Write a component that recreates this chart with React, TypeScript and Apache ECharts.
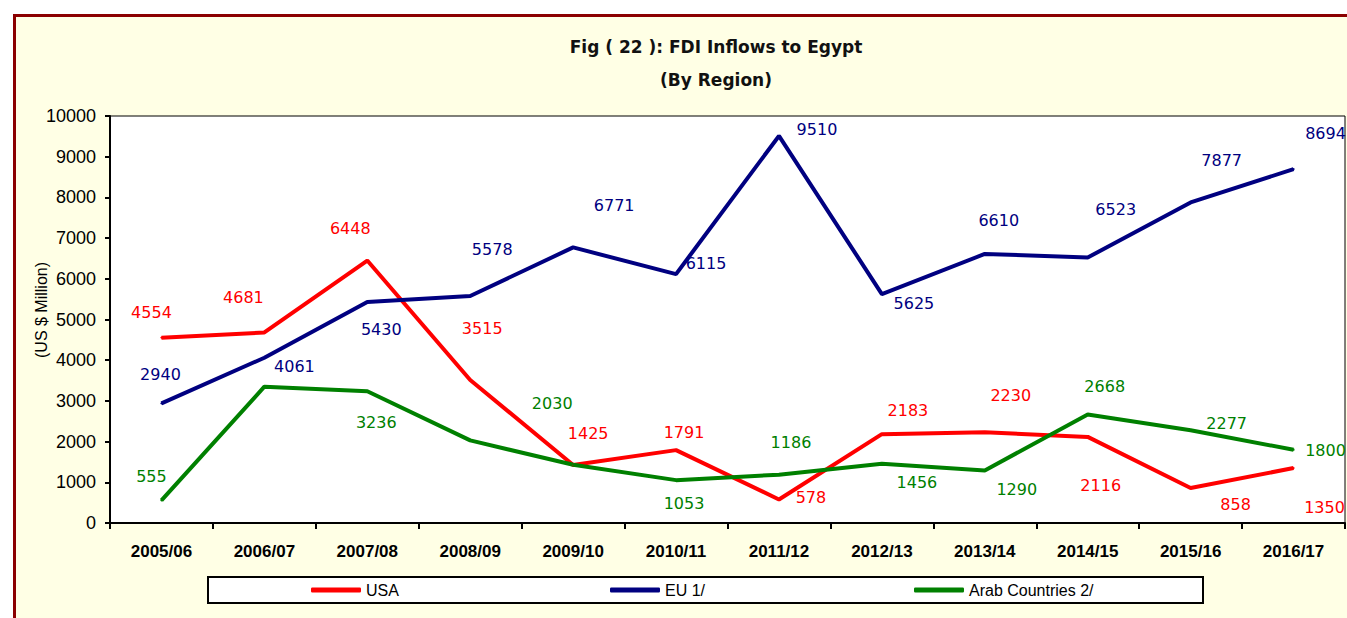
import React, { useEffect, useRef } from "react";
import * as echarts from "echarts";

const categories = ["2005/06", "2006/07", "2007/08", "2008/09", "2009/10", "2010/11", "2011/12", "2012/13", "2013/14", "2014/15", "2015/16", "2016/17"];
const usa = [4554, 4681, 6448, 3515, 1425, 1791, 578, 2183, 2230, 2116, 858, 1350];
const eu = [2940, 4061, 5430, 5578, 6771, 6115, 9510, 5625, 6610, 6523, 7877, 8694];
const arab = [555, 3349, 3236, 2030, 1430, 1053, 1186, 1456, 1290, 2668, 2277, 1800];
const yTicks = [0, 1000, 2000, 3000, 4000, 5000, 6000, 7000, 8000, 9000, 10000];

// label offsets (styling only), [dx, dy] from each point; null = label hidden
const usaLabelOffsets: ([number, number] | null)[] = [[-10, -25], [-21, -35], [-17, -32], [12, -51], [15, -32], [8, -18], [32, -2], [26, -24], [26, -37], [13, 49], [45, 16], [31, 39]];
const euLabelOffsets: ([number, number] | null)[] = [[-1, -29], [30, 9], [14, 28], [22, -46], [41, -42], [30, -11], [38, -6], [32, 9], [14, -33], [28, -48], [31, -42], [32, -36]];
const arabLabelOffsets: ([number, number] | null)[] = [[-10, -24], null, [9, 31], [82, -37], null, [8, 23], [12, -32], [35, 19], [32, 19], [17, -28], [36, -7], [32, 1]];

const RED = "#FF0000";
const NAVY = "#000080";
const GREEN = "#008000";

function buildData(values: number[], offsets: ([number, number] | null)[], color: string) {
  return values.map((v, i) => {
    const off = offsets[i];
    return {
      value: v,
      label: off
        ? {
            show: true,
            position: "inside",
            offset: off,
            color,
            fontFamily: "DejaVu Sans",
            fontSize: 16,
          }
        : { show: false },
    };
  });
}

export default function App() {
  const ref = useRef<HTMLDivElement>(null);

  useEffect(() => {
    if (!ref.current) return;
    const chart = echarts.init(ref.current, undefined, { renderer: "svg" });
    const mkSeries = (name: string, values: number[], offsets: ([number, number] | null)[], color: string) => ({
      name,
      type: "line",
      data: buildData(values, offsets, color),
      symbol: "circle",
      symbolSize: 2,
      showSymbol: true,
      itemStyle: { color },
      lineStyle: { color, width: 4 },
      label: { show: true, formatter: "{c}" },
      emphasis: { disabled: true },
    });
    const legendBase = {
      orient: "horizontal",
      top: 582,
      padding: 0,
      icon: "roundRect",
      itemWidth: 50,
      itemHeight: 5,
      textStyle: { fontFamily: "Liberation Sans", fontSize: 16, color: "#000" },
      selectedMode: false,
    };
    chart.setOption({
      animation: false,
      backgroundColor: "transparent",
      grid: {
        left: 110,
        top: 116,
        width: 1235,
        height: 407,
        show: true,
        backgroundColor: "#FFFFFF",
        borderColor: "#000",
        borderWidth: 1,
      },
      graphic: [
        {
          type: "rect",
          z: 1,
          shape: { x: 208, y: 577, width: 995, height: 26 },
          style: { fill: "#FFFFFF", stroke: "#000", lineWidth: 2 },
        },
        {
          type: "text",
          x: 716,
          y: 47,
          style: {
            text: "Fig ( 22 ): FDI Inflows to Egypt",
            align: "center",
            verticalAlign: "middle",
            fontFamily: "DejaVu Sans",
            fontWeight: "bold",
            fontSize: 17,
            fill: "#111",
          },
        },
        {
          type: "text",
          x: 716,
          y: 80,
          style: {
            text: "(By Region)",
            align: "center",
            verticalAlign: "middle",
            fontFamily: "DejaVu Sans",
            fontWeight: "bold",
            fontSize: 17,
            fill: "#111",
          },
        },
        {
          type: "text",
          x: 41,
          y: 310,
          rotation: Math.PI / 2,
          style: {
            text: "(US $ Million)",
            align: "center",
            verticalAlign: "middle",
            fontFamily: "Liberation Sans",
            fontSize: 16,
            fill: "#000",
          },
        },
      ],
      legend: [
        { ...legendBase, left: 311, data: ["USA"] },
        { ...legendBase, left: 610, data: ["EU 1/"] },
        { ...legendBase, left: 914, data: ["Arab Countries 2/"] },
      ],
      xAxis: {
        type: "category",
        data: categories,
        boundaryGap: true,
        axisLine: { show: true, lineStyle: { color: "#000", width: 2 } },
        axisTick: { show: true, length: 6, lineStyle: { color: "#000", width: 2 } },
        axisLabel: {
          margin: 20,
          fontFamily: "Liberation Sans",
          fontWeight: "bold",
          fontSize: 17,
          color: "#000",
          interval: 0,
        },
        splitLine: { show: false },
      },
      yAxis: {
        type: "value",
        min: yTicks[0],
        max: yTicks[yTicks.length - 1],
        interval: 1000,
        axisLine: { show: true, lineStyle: { color: "#000", width: 2 } },
        axisTick: { show: true, length: 5, lineStyle: { color: "#000", width: 2 } },
        axisLabel: {
          margin: 14,
          fontFamily: "Liberation Sans",
          fontSize: 18,
          color: "#000",
          formatter: (v: number) => String(v),
        },
        splitLine: { show: false },
      },
      series: [
        mkSeries("USA", usa, usaLabelOffsets, RED),
        mkSeries("EU 1/", eu, euLabelOffsets, NAVY),
        mkSeries("Arab Countries 2/", arab, arabLabelOffsets, GREEN),
      ],
    });
    return () => chart.dispose();
  }, []);

  return (
    <div style={{ position: "fixed", left: 0, top: 0, width: 1347, height: 618, background: "#FFFFFF", overflow: "hidden" }}>
      <div
        style={{
          position: "absolute",
          left: 13,
          top: 14,
          width: 1334,
          height: 604,
          boxSizing: "border-box",
          background: "#FFFFE5",
          borderTop: "3px solid #8B0000",
          borderLeft: "3px solid #8B0000",
        }}
      />
      <div ref={ref} style={{ position: "absolute", left: 0, top: 0, width: 1347, height: 618 }} />
    </div>
  );
}
